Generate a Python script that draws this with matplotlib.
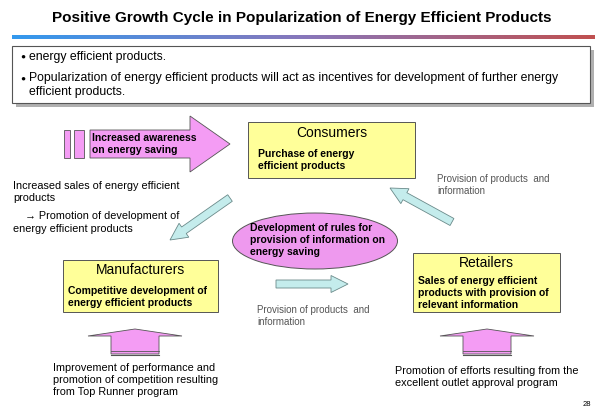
import numpy as np
import matplotlib.pyplot as plt
from matplotlib.patches import Rectangle, Polygon, Ellipse, FancyArrow
from matplotlib.colors import LinearSegmentedColormap

plt.rcParams['font.family'] = 'Liberation Sans'

# texts of the diagram
title = "Positive Growth Cycle in Popularization of Energy Efficient Products"
bullets = ["energy efficient products.",
           "Popularization of energy efficient products will act as incentives for development of further energy\nefficient products."]
box_titles = ["Consumers", "Manufacturers", "Retailers"]
box_texts = ["Purchase of energy\nefficient products",
             "Competitive development of\nenergy efficient products",
             "Sales of energy efficient\nproducts with provision of\nrelevant information"]
awareness = "Increased awareness\non energy saving"
sales_text = "Increased sales of energy efficient\nproducts"
promo_text = "energy efficient products"
ellipse_text = "Development of rules for\nprovision of information on\nenergy saving"
provision = "Provision of products  and\ninformation"
bottom_left = "Improvement of performance and\npromotion of competition resulting\nfrom Top Runner program"
bottom_right = "Promotion of efforts resulting from the\nexcellent outlet approval program"

fig = plt.figure(figsize=(6, 4.15), dpi=100)
ax = fig.add_axes([0, 0, 1, 1])

yellow = '#ffff99'
pink = '#f49cf4'
cyan = '#c4ecec'

# title and gradient rule
ax.text(302, 18, title, ha='center', va='center', fontsize=11, fontweight='bold')
grad = np.linspace(0, 1, 256).reshape(1, -1)
cmap = LinearSegmentedColormap.from_list('g', ['#3399ee', '#8877bb', '#c05050'])
ax.imshow(grad, cmap=cmap, extent=(12, 595, 39, 35), aspect='auto')
ax.set_xlim(0, 600)
ax.set_ylim(415, 0)
ax.axis('off')

# bullet box with shadow
ax.add_patch(Rectangle((16, 50), 578, 57, fc='#b0b0b0', ec='none'))
ax.add_patch(Rectangle((12, 46), 578, 57, fc='white', ec='#555555', lw=0.8))
for y in [57, 79]:
    ax.text(20, y, "●", va='center', fontsize=6)
ax.text(29, 57, bullets[0], va='center', fontsize=8.8)
ax.text(29, 85, bullets[1], va='center', fontsize=8.8, linespacing=1.25)

# awareness arrow with bars
ax.add_patch(Rectangle((64, 130), 6, 28, fc=pink, ec='#555555', lw=0.6))
ax.add_patch(Rectangle((74, 130), 10, 28, fc=pink, ec='#555555', lw=0.6))
ax.add_patch(Polygon([(90, 130), (190, 130), (190, 116), (230, 144), (190, 172),
                      (190, 158), (90, 158)], fc=pink, ec='#555555', lw=0.6))
ax.text(92, 144, awareness, va='center', fontsize=7.5, fontweight='bold', linespacing=1.2)

# boxes
boxes = [(248, 122, 167, 56), (63, 260, 155, 52), (413, 253, 147, 59)]
title_y = [133, 270, 263]
text_pos = [(258, 160), (68, 297), (418, 293)]
for (x, y, w, h), t, ty, tt, (tx, tyy) in zip(boxes, box_titles, title_y, box_texts, text_pos):
    ax.add_patch(Rectangle((x, y), w, h, fc=yellow, ec='#555555', lw=0.7))
    ax.text(x + w / 2, ty, t, ha='center', va='center', fontsize=10)
    ax.text(tx, tyy, tt, va='center', fontsize=7.5, fontweight='bold', linespacing=1.2)

# side texts
ax.text(13, 192, sales_text, va='center', fontsize=7.8, linespacing=1.3)
ax.text(25, 216, "\u2192 Promotion of development of", va='center', fontsize=7.8)
ax.text(13, 229, promo_text, va='center', fontsize=7.8)

# ellipse
ax.add_patch(Ellipse((315, 241), 165, 56, fc='#ee99ee', ec='#555555', lw=0.7))
ax.text(250, 240, ellipse_text, va='center', fontsize=7.5, fontweight='bold', linespacing=1.2)

# cyan arrows (tail x, tail y, dx, dy)
for x0, y0, dx, dy in [(230, 198, -60, 42), (276, 284, 72, 0), (452, 222, -62, -34)]:
    ax.add_patch(FancyArrow(x0, y0, dx, dy, width=8, head_width=17, head_length=17,
                            length_includes_head=True, fc=cyan, ec='#6a8a8a', lw=0.6))

ax.text(257, 316, provision, va='center', fontsize=7, color='#555555', linespacing=1.3)
ax.text(437, 185, provision, va='center', fontsize=7, color='#555555', linespacing=1.3)

# upward pink arrows
for cx in [135, 487]:
    ax.add_patch(Polygon([(cx - 47, 336), (cx, 329), (cx + 47, 336), (cx + 24, 336),
                          (cx + 24, 354), (cx - 24, 354), (cx - 24, 336)],
                         fc=pink, ec='#555555', lw=0.6))
    ax.plot([cx - 24, cx + 24], [351, 351], color='#555555', lw=0.6)
    ax.plot([cx - 24, cx + 24], [355, 355], color='#555555', lw=0.8)

ax.text(53, 380, bottom_left, va='center', fontsize=7.8, linespacing=1.3)
ax.text(395, 377, bottom_right, va='center', fontsize=7.8, linespacing=1.3)
ax.text(583, 404, "28", va='center', fontsize=5.5)

fig.savefig('out.png', dpi=100)
